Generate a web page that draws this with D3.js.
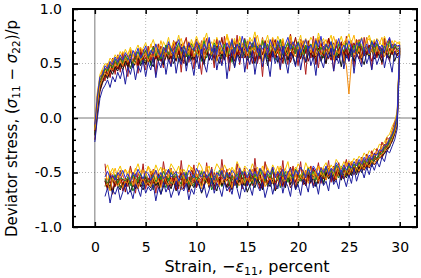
<!DOCTYPE html>
<html>
<head>
<meta charset="utf-8">
<script src="https://cdn.jsdelivr.net/npm/d3@7"></script>
<style>
  body { margin: 0; background: #fff; }
  svg text { font-family: "DejaVu Sans", sans-serif; fill: #000; }
</style>
</head>
<body>
<script>
// strain grid (percent) for the loading and the unloading branch
const strainLoad = [0,0.25,0.5,0.75,1,1.25,1.5,1.75,2,2.25, 2.5,2.75,3,3.25,3.5,3.75,4,4.25,4.5,4.75,
  5,5.25,5.5,5.75,6,6.25,6.5,6.75,7,7.25, 7.5,7.75,8,8.25,8.5,8.75,9,9.25,9.5,9.75,
  10,10.25,10.5,10.75,11,11.25,11.5,11.75,12,12.25, 12.5,12.75,13,13.25,13.5,13.75,14,14.25,14.5,14.75,
  15,15.25,15.5,15.75,16,16.25,16.5,16.75,17,17.25, 17.5,17.75,18,18.25,18.5,18.75,19,19.25,19.5,19.75,
  20,20.25,20.5,20.75,21,21.25,21.5,21.75,22,22.25, 22.5,22.75,23,23.25,23.5,23.75,24,24.25,24.5,24.75,
  25,25.25,25.5,25.75,26,26.25,26.5,26.75,27,27.25, 27.5,27.75,28,28.25,28.5,28.75,29,29.25,29.5,29.75, 30];
const strainUnload = [30,29.75,29.5,29.25,29,28.75,28.5,28.25,28,27.75, 27.5,27.25,27,26.75,26.5,26.25,26,25.75,25.5,25.25,
  25,24.75,24.5,24.25,24,23.75,23.5,23.25,23,22.75, 22.5,22.25,22,21.75,21.5,21.25,21,20.75,20.5,20.25,
  20,19.75,19.5,19.25,19,18.75,18.5,18.25,18,17.75, 17.5,17.25,17,16.75,16.5,16.25,16,15.75,15.5,15.25,
  15,14.75,14.5,14.25,14,13.75,13.5,13.25,13,12.75, 12.5,12.25,12,11.75,11.5,11.25,11,10.75,10.5,10.25,
  10,9.75,9.5,9.25,9,8.75,8.5,8.25,8,7.75, 7.5,7.25,7,6.75,6.5,6.25,6,5.75,5.5,5.25,
  5,4.75,4.5,4.25,4,3.75,3.5,3.25,3,2.75, 2.5,2.25,2,1.75,1.5,1.25,1];

// deviator stress, in hundredths
const upA = [-12,12,33,35,46,40,51,43,52,45, 56,47,55,49,58,50,57,48,60,53, 62,51,59,66,54,61,52,64,57,68, 55,63,70,58,65,52,61,69,57,64,
  72,59,66,53,63,71,60,55,67,62, 74,58,65,51,62,70,57,66,60,73, 56,64,69,52,61,67,58,71,63,55, 66,72,59,64,50,62,69,57,65,74,
  61,54,67,60,71,58,63,49,62,68, 57,65,73,60,55,66,62,70,58,64, 52,63,69,61,72,56,65,59,67,62, 70,57,64,55,66,61,73,58,65,63, 64];
const downA = [64,0,-6,-19,-18,-28,-24,-35,-30,-39, -32,-42,-36,-45,-38,-47,-40,-48,-43,-50, -41,-52,-46,-55,-44,-51,-58,-47,-53,-45,
  -56,-49,-60,-51,-46,-57,-53,-62,-48,-55, -50,-59,-54,-45,-58,-52,-63,-49,-56,-61, -47,-55,-60,-52,-64,-50,-57,-46,-59,-53,
  -62,-51,-56,-48,-60,-54,-65,-50,-58,-55, -49,-61,-53,-58,-47,-63,-55,-51,-60,-57, -64,-52,-48,-59,-55,-62,-50,-57,-66,-53,
  -58,-47,-61,-54,-63,-51,-56,-60,-49,-62, -55,-59,-52,-65,-57,-50,-61,-54,-68,-56, -60,-51,-63,-57,-53,-66,-58];
const upB = [-4,22,40,45,50,48,55,52,58,54, 61,56,63,58,65,57,62,67,60,64, 69,61,66,72,63,68,60,70,65,74, 62,71,67,76,64,69,73,61,72,66,
  75,68,63,71,78,65,70,62,74,67, 72,64,77,69,66,73,61,75,68,71, 65,74,70,79,67,63,72,68,76,64, 71,66,75,69,73,62,70,77,65,72,
  68,76,63,71,67,74,70,64,78,69, 73,65,70,76,62,71,68,75,66,72, 77,67,63,72,69,74,65,71,76,68, 64,73,70,66,75,68,72,63,71,69, 70];
const downB = [70,6,-3,-8,-15,-17,-22,-25,-24,-30, -28,-33,-30,-36,-32,-38,-35,-40,-37,-42, -39,-44,-40,-46,-42,-38,-47,-43,-49,-41,
  -45,-50,-43,-48,-52,-44,-47,-41,-51,-46, -42,-49,-45,-53,-40,-47,-50,-44,-52,-48, -43,-51,-46,-41,-49,-54,-45,-48,-42,-50,
  -47,-44,-52,-46,-40,-50,-45,-53,-48,-43, -51,-46,-42,-49,-55,-44,-48,-52,-45,-41, -49,-53,-46,-43,-51,-47,-54,-44,-50,-46,
  -42,-50,-47,-55,-45,-49,-43,-52,-48,-44, -53,-46,-50,-42,-48,-55,-45,-51,-47,-52, -44,-49,-54,-46,-51,-43,-48];
const upC = [-22,0,18,26,30,35,28,38,33,42, 36,45,31,47,40,50,35,48,42,53, 38,51,44,56,37,52,46,58,40,54, 47,60,41,55,49,62,43,57,51,39,
  58,45,63,50,42,59,53,64,44,56, 48,61,36,55,63,46,58,51,65,42, 57,49,62,40,55,64,47,59,52,38, 61,50,57,45,66,53,41,60,55,47,
  63,44,58,52,66,48,56,39,61,53, 46,60,55,64,43,57,50,62,45,58, 52,65,41,59,54,47,63,50,57,44, 60,49,56,64,46,58,53,42,61,55, 58];
const downC = [58,-10,-20,-26,-32,-30,-40,-36,-45,-40, -48,-42,-52,-45,-55,-47,-50,-58,-46,-60, -52,-63,-55,-48,-65,-57,-61,-50,-67,-58,
  -62,-54,-70,-59,-64,-52,-68,-60,-56,-71, -61,-66,-55,-72,-63,-58,-69,-54,-65,-60, -70,-57,-64,-73,-59,-67,-62,-55,-71,-63,
  -58,-68,-61,-74,-65,-56,-70,-63,-67,-59, -72,-64,-60,-69,-55,-66,-73,-61,-68,-62, -57,-70,-65,-75,-60,-67,-63,-71,-58,-66,
  -73,-62,-68,-59,-70,-64,-76,-61,-67,-63, -69,-58,-72,-65,-61,-74,-66,-70,-60,-68, -75,-63,-70,-66,-78,-64,-72];
const upD = [-8,18,35,41,44,47,43,50,46,53, 49,56,51,58,53,48,60,55,52,61, 57,63,54,60,66,56,62,58,65,53, 61,68,59,64,55,67,62,70,57,63,
  66,60,71,58,64,69,61,56,67,63, 59,70,65,62,73,57,66,61,68,64, 71,60,65,58,69,63,74,61,67,55, 64,69,60,72,66,58,63,70,62,67,
  57,65,71,61,68,64,59,73,63,66, 70,61,67,56,64,72,60,66,69,58, 65,71,62,68,59,66,63,74,61,67, 62,69,58,65,71,63,67,60,68,65, 66];
const downD = [66,2,-11,-13,-22,-22,-29,-27,-35,-32, -38,-34,-41,-37,-43,-39,-46,-41,-47,-42, -49,-43,-50,-46,-53,-44,-51,-48,-55,-47,
  -52,-45,-56,-50,-47,-54,-49,-58,-51,-46, -55,-50,-57,-48,-53,-59,-51,-46,-56,-52, -49,-57,-53,-60,-48,-55,-51,-58,-47,-54,
  -56,-50,-61,-53,-49,-57,-52,-59,-54,-48, -55,-60,-51,-56,-49,-62,-53,-57,-50,-58, -52,-47,-57,-54,-61,-50,-56,-53,-59,-49,
  -58,-52,-55,-63,-51,-57,-48,-60,-54,-56, -50,-59,-53,-57,-62,-51,-56,-54,-60,-52, -57,-61,-53,-58,-50,-62,-55];
const upE = [-14,10,28,38,39,45,42,48,44,51, 47,53,49,55,45,54,51,57,50,56, 52,59,48,57,62,53,58,51,63,55, 60,54,65,51,58,62,56,66,53,59,
  57,64,52,61,55,67,58,50,63,60, 54,66,59,62,51,65,57,69,56,61, 63,55,60,68,52,64,58,62,54,67, 59,53,66,57,63,50,61,68,56,62,
  65,58,54,67,60,56,64,52,62,58, 55,63,60,69,54,61,57,65,51,60, 64,56,62,58,67,53,60,66,57,63, 58,66,55,62,60,68,54,63,59,61, 62];
const downE = [62,-4,-12,-21,-20,-29,-27,-34,-33,-39, -37,-43,-38,-45,-40,-47,-43,-49,-44,-51, -46,-53,-48,-44,-55,-50,-52,-57,-49,-54,
  -59,-51,-55,-61,-53,-57,-50,-60,-56,-52, -58,-63,-54,-57,-51,-61,-55,-64,-53,-59, -56,-52,-62,-57,-65,-54,-60,-51,-58,-63,
  -55,-61,-57,-53,-64,-59,-56,-62,-50,-58, -63,-57,-54,-60,-66,-55,-59,-52,-61,-57, -54,-62,-58,-65,-56,-52,-61,-57,-63,-59,
  -60,-55,-64,-58,-53,-62,-57,-66,-56,-61, -57,-63,-59,-54,-61,-67,-58,-55,-62,-60, -64,-58,-61,-56,-66,-59,-63];
const upF = [-2,24,37,44,42,50,48,54,51,57, 55,61,54,59,63,56,62,58,65,59, 63,58,68,61,66,60,71,63,59,67, 64,70,62,68,73,63,66,60,69,65,
  71,62,67,74,64,69,61,72,66,70, 63,68,75,65,62,71,67,73,64,69, 66,72,61,70,76,65,68,63,71,67, 74,64,69,66,72,61,70,75,65,68,
  63,71,67,73,65,60,69,66,74,64, 68,72,62,67,75,66,70,63,69,73, 65,69,76,64,71,67,62,70,73,66, 72,64,68,74,63,70,66,71,65,69, 68];
const downF = [68,4,-7,-12,-20,-20,-26,-26,-31,-31, -35,-33,-38,-35,-41,-37,-44,-39,-45,-40, -47,-41,-45,-50,-43,-48,-45,-51,-44,-49,
  -46,-52,-44,-49,-53,-47,-45,-51,-48,-54, -49,-45,-52,-47,-55,-46,-50,-53,-44,-51, -48,-54,-46,-51,-44,-52,-49,-56,-47,-50,
  -53,-47,-51,-45,-55,-48,-52,-46,-50,-54, -46,-52,-49,-55,-47,-51,-44,-53,-48,-50, -54,-48,-45,-52,-50,-56,-47,-51,-49,-53,
  -47,-55,-50,-46,-53,-49,-57,-48,-52,-45, -51,-48,-54,-50,-46,-53,-49,-56,-47,-52, -50,-55,-46,-53,-49,-57,-51];
const upG = [-16,8,26,33,40,36,44,40,47,43, 50,44,52,47,54,46,51,55,48,53, 49,56,51,47,58,52,55,49,60,53, 57,50,55,61,52,58,48,63,54,57,
  51,60,56,49,62,53,58,64,55,50, 59,54,63,52,57,47,60,55,62,58, 53,61,56,50,64,57,52,59,48,61, 56,62,51,58,54,65,53,60,57,49,
  60,55,63,51,58,62,54,57,64,52, 58,50,61,56,63,53,59,47,62,55, 59,64,52,57,61,55,49,60,56,63, 54,60,57,51,62,58,55,63,52,59, 60];
const downG = [60,-6,-14,-20,-27,-28,-33,-35,-36,-41, -39,-45,-41,-47,-44,-50,-45,-52,-47,-53, -49,-55,-51,-57,-50,-54,-59,-52,-56,-50,
  -61,-53,-57,-63,-55,-59,-52,-62,-58,-54, -60,-65,-56,-61,-53,-64,-58,-55,-62,-67, -57,-63,-59,-54,-66,-60,-56,-64,-58,-62,
  -68,-59,-63,-57,-61,-55,-66,-60,-64,-58, -62,-56,-67,-61,-58,-64,-55,-63,-69,-60, -57,-64,-60,-66,-59,-55,-63,-61,-67,-58,
  -65,-60,-57,-63,-70,-59,-62,-56,-64,-61, -59,-66,-62,-58,-65,-61,-68,-57,-63,-60, -66,-62,-59,-69,-61,-64,-58];
const upH = [-8,20,26,44,34,50,37,55,40,58, 42,60,47,38,62,50,58,41,64,52, 44,66,53,61,40,68,56,46,67,59, 48,71,55,63,42,67,74,51,62,45,
  70,57,40,66,73,53,63,46,72,58, 50,75,60,43,68,55,76,49,64,70, 45,66,57,74,50,63,38,69,59,52, 73,55,66,44,71,60,49,77,56,64,
  48,72,61,40,67,55,75,58,46,69, 60,50,73,64,43,70,56,66,52,75, 54,69,47,72,62,50,74,58,67,45, 70,55,65,49,73,60,52,68,63,57, 64];
const downH = [64,2,-4,-12,-20,-18,-27,-22,-33,-28, -38,-30,-42,-33,-45,-36,-48,-38,-50,-40, -53,-38,-47,-57,-41,-54,-44,-59,-39,-53,
  -46,-60,-41,-55,-62,-44,-57,-48,-61,-40, -54,-64,-44,-58,-49,-63,-39,-59,-50,-66, -45,-61,-53,-40,-64,-50,-58,-37,-62,-51,
  -59,-46,-65,-55,-42,-62,-52,-68,-47,-57, -38,-61,-54,-66,-45,-59,-41,-64,-56,-48, -63,-43,-57,-68,-50,-60,-39,-65,-53,-58,
  -46,-66,-56,-40,-62,-52,-69,-47,-60,-55, -65,-42,-58,-50,-69,-55,-44,-63,-57,-67, -48,-61,-53,-70,-51,-64,-42];
const upI = [-6,20,38,40,48,45,52,49,56,51, 58,53,60,56,51,62,57,64,55,60, 66,57,62,59,68,61,56,65,60,70, 63,58,67,72,61,66,59,69,64,62,
  70,65,59,68,63,74,61,67,58,71, 65,60,69,64,72,59,68,62,75,66, 61,70,65,73,60,67,63,69,58,72, 66,62,71,64,59,68,74,63,70,65,
  69,60,66,72,63,67,61,71,65,75, 62,68,64,70,58,66,73,61,67,63, 71,64,60,69,66,73,62,68,59,70, 65,72,63,67,61,69,74,64,68,66, 67];
const downI = [67,3,-9,-15,-19,-24,-25,-30,-29,-34, -33,-38,-34,-40,-36,-42,-38,-44,-40,-46, -42,-48,-43,-50,-45,-41,-49,-46,-52,-44,
  -50,-46,-53,-48,-44,-51,-47,-55,-49,-45, -52,-48,-54,-46,-50,-57,-47,-53,-49,-55, -45,-52,-48,-56,-50,-46,-54,-49,-53,-47,
  -55,-49,-52,-46,-57,-51,-48,-54,-50,-56, -48,-53,-50,-57,-47,-52,-55,-49,-54,-51, -46,-55,-51,-48,-56,-50,-53,-58,-49,-52,
  -54,-47,-52,-56,-50,-55,-48,-53,-57,-51, -49,-56,-52,-47,-54,-50,-58,-51,-55,-48, -53,-50,-57,-52,-55,-49,-54];
const upJ = [-20,4,24,32,37,41,38,45,42,48, 44,51,47,53,46,50,55,48,52,57, 50,55,59,51,57,53,61,49,56,60, 54,59,52,63,56,50,60,57,64,53,
  58,62,55,51,63,57,60,66,54,59, 61,53,65,57,60,52,63,58,55,64, 57,62,50,60,66,54,59,63,56,52, 62,58,65,53,60,57,63,51,59,66,
  55,61,58,64,52,60,56,67,58,54, 63,57,60,53,65,59,55,62,50,61, 58,64,56,60,54,66,57,61,59,52, 60,56,64,58,62,55,63,59,61,57, 61];
const downJ = [61,-7,-15,-22,-25,-31,-31,-37,-36,-40, -43,-40,-46,-42,-48,-44,-50,-46,-52,-48, -54,-49,-56,-51,-47,-57,-52,-58,-50,-55,
  -53,-59,-51,-56,-62,-54,-58,-50,-61,-55, -57,-52,-60,-64,-55,-59,-53,-62,-57,-51, -60,-56,-63,-54,-58,-65,-57,-61,-53,-59,
  -55,-62,-58,-51,-64,-56,-60,-54,-63,-57, -61,-54,-59,-66,-56,-60,-52,-63,-58,-55, -62,-58,-53,-61,-57,-65,-55,-59,-63,-56,
  -58,-64,-55,-60,-53,-62,-59,-66,-56,-61, -54,-60,-63,-57,-65,-58,-61,-55,-62,-59, -63,-56,-60,-66,-58,-62,-57];
const upK = [-9,14,34,39,45,43,49,46,54,48, 55,50,57,53,59,49,56,61,54,58, 62,55,60,65,57,63,54,61,67,58, 64,57,62,69,59,66,61,56,68,63,
  58,67,62,71,60,65,57,69,63,66, 61,68,56,64,70,60,67,63,58,72, 64,59,69,62,66,57,71,63,68,60, 67,61,65,72,58,64,69,62,66,59,
  70,63,57,66,61,68,64,71,60,65, 59,67,63,70,62,57,68,64,61,69, 63,58,67,61,70,65,59,66,62,71, 60,68,64,59,66,62,70,61,67,63, 65];
const downK = [65,1,-10,-17,-21,-26,-27,-33,-32,-37, -35,-41,-37,-43,-39,-45,-41,-47,-42,-48, -44,-50,-46,-52,-47,-43,-53,-48,-51,-46,
  -54,-48,-51,-57,-49,-53,-46,-55,-50,-58, -51,-47,-56,-52,-59,-49,-54,-50,-57,-53, -48,-55,-51,-58,-53,-47,-56,-52,-60,-50,
  -54,-59,-49,-55,-51,-57,-53,-61,-50,-56, -52,-48,-57,-53,-60,-51,-55,-58,-49,-54, -57,-52,-55,-61,-50,-56,-53,-59,-51,-55,
  -50,-58,-54,-49,-57,-53,-60,-52,-56,-59, -53,-57,-51,-59,-55,-52,-62,-54,-58,-56, -55,-60,-52,-57,-54,-61,-56];
const upL = [-11,11,30,36,41,39,46,44,50,47, 53,48,55,51,57,52,49,58,53,56, 60,52,58,54,63,56,61,53,59,65, 57,62,55,66,59,53,63,58,67,56,
  62,57,68,54,61,65,58,63,52,66, 59,64,56,69,60,55,66,62,58,67, 54,63,60,65,57,68,52,64,59,61, 66,58,62,55,69,61,57,64,60,56,
  63,67,59,54,65,60,68,57,62,58, 64,56,61,67,53,62,59,66,55,48, 22,52,60,57,64,55,61,66,58,63, 57,65,60,62,56,67,59,64,58,62, 60];
const downL = [60,-5,-13,-19,-25,-27,-31,-33,-37,-38, -42,-39,-45,-41,-47,-43,-49,-45,-51,-46, -52,-47,-54,-49,-45,-56,-50,-53,-48,-57,
  -51,-55,-58,-50,-56,-53,-60,-49,-57,-54, -58,-52,-61,-55,-50,-59,-54,-62,-56,-52, -60,-55,-58,-63,-53,-57,-50,-61,-56,-59,
  -53,-60,-56,-62,-58,-51,-64,-57,-55,-61, -57,-63,-52,-59,-55,-62,-58,-54,-65,-56, -59,-54,-62,-57,-60,-53,-66,-58,-55,-61,
  -56,-62,-58,-53,-64,-57,-60,-55,-63,-59, -61,-55,-59,-65,-56,-62,-54,-60,-58,-64, -57,-63,-59,-55,-67,-60,-62];
const upM = [-15,14,29,39,43,37,49,45,52,47, 55,49,58,46,56,52,60,51,57,63, 54,60,50,64,57,53,66,59,62,52, 65,58,61,54,68,60,56,67,53,63,
  60,69,55,64,58,71,62,54,66,61, 57,66,63,70,56,62,68,59,64,55, 69,61,58,66,53,64,70,60,57,67, 62,56,68,63,71,58,65,54,66,60,
  57,64,70,59,62,55,67,61,72,58, 66,60,54,65,69,57,63,68,59,62, 55,67,61,58,70,63,57,65,60,68, 62,58,66,61,69,56,64,60,67,61, 63];
const downM = [63,-3,-12,-16,-24,-23,-31,-30,-35,-36, -39,-37,-44,-40,-46,-42,-45,-50,-44,-52, -47,-53,-45,-55,-50,-48,-56,-51,-46,-57,
  -52,-49,-58,-54,-47,-60,-53,-50,-57,-55, -48,-59,-54,-61,-51,-56,-49,-62,-55,-52, -58,-53,-60,-50,-57,-63,-54,-59,-51,-56,
  -62,-55,-51,-58,-64,-53,-57,-60,-52,-59, -54,-61,-57,-50,-63,-56,-59,-53,-62,-58, -51,-60,-55,-64,-57,-52,-61,-56,-59,-54,
  -63,-57,-53,-60,-56,-65,-58,-52,-61,-55, -59,-54,-62,-57,-51,-63,-58,-60,-55,-64, -56,-61,-58,-53,-65,-59,-62];

// drawing order: reds underneath, blues and greens mixed on top
const runColors = ["#7a0000", "#a01515", "#1e7d1e", "#cc5a1e", "#f5c400", "#b01e1e", "#111111",
  "#8b0000", "#ffb000", "#228b22", "#f08a0c", "#1c1c9e", "#2b2bd0"];
const runs = [
  [upJ, downJ], [upM, downM], [upE, downE], [upD, downD], [upB, downB], [upH, downH], [upG, downG],
  [upA, downA], [upF, downF], [upK, downK], [upL, downL], [upC, downC], [upI, downI]
];

const xTicks = [0, 5, 10, 15, 20, 25, 30];
const xTickLabels = ["0", "5", "10", "15", "20", "25", "30"];
const yTicks = [-1, -0.5, 0, 0.5, 1];
const yTickLabels = ["-1.0", "-0.5", "0.0", "0.5", "1.0"];
const yMinorTicks = [-0.9,-0.8,-0.7,-0.6,-0.4,-0.3,-0.2,-0.1,0.1,0.2,0.3,0.4,0.6,0.7,0.8,0.9];

const width = 421, height = 278;
const box = {left: 73, right: 417, top: 9, bottom: 227};

const svg = d3.select("body").append("svg")
  .attr("width", width)
  .attr("height", height);

svg.append("rect").attr("width", width).attr("height", height).attr("fill", "#fff");

const x = d3.scaleLinear().domain([-2.15, 31.7]).range([box.left, box.right]);
const y = d3.scaleLinear().domain([-1, 1]).range([box.bottom, box.top]);

svg.append("clipPath").attr("id", "plot")
  .append("rect")
  .attr("x", box.left).attr("y", box.top)
  .attr("width", box.right - box.left).attr("height", box.bottom - box.top);

// dotted grid
svg.append("g")
  .selectAll("line")
  .data(xTicks.filter(d => d !== 0))
  .enter().append("line")
  .attr("x1", d => x(d)).attr("x2", d => x(d))
  .attr("y1", box.top).attr("y2", box.bottom)
  .attr("stroke", "#b8b8b8")
  .attr("stroke-dasharray", "1,2");
svg.append("g")
  .selectAll("line")
  .data(yTicks.filter(d => d !== 0))
  .enter().append("line")
  .attr("x1", box.left).attr("x2", box.right)
  .attr("y1", d => y(d)).attr("y2", d => y(d))
  .attr("stroke", "#b8b8b8")
  .attr("stroke-dasharray", "1,2");

// zero lines
svg.append("line")
  .attr("x1", x(0)).attr("x2", x(0)).attr("y1", box.top).attr("y2", box.bottom)
  .attr("stroke", "#555").attr("stroke-width", 0.8);
svg.append("line")
  .attr("x1", box.left).attr("x2", box.right).attr("y1", y(0)).attr("y2", y(0))
  .attr("stroke", "#555").attr("stroke-width", 0.8);

// the stress-strain loops
const line = d3.line()
  .x(d => x(d[0]))
  .y(d => y(d[1]));

const plot = svg.append("g").attr("clip-path", "url(#plot)");
runs.forEach(function(run, k) {
  let pts = [];
  strainLoad.forEach(function(s, i) {
    if (i < run[0].length) pts.push([s, run[0][i] / 100]);
  });
  strainUnload.forEach(function(s, i) {
    if (i < run[1].length) pts.push([s, run[1][i] / 100]);
  });
  plot.append("path")
    .datum(pts)
    .attr("d", line)
    .attr("fill", "none")
    .attr("stroke", runColors[k])
    .attr("stroke-width", 1)
    .attr("stroke-linejoin", "round");
});

// axes, ticks pointing inwards
const fmtY = d => yTickLabels[yTicks.indexOf(d)];
const fmtX = d => xTickLabels[xTicks.indexOf(d)];

svg.append("g")
  .attr("transform", "translate(" + box.left + ",0)")
  .call(d3.axisLeft(y).tickValues(yTicks).tickSize(-5).tickPadding(11).tickFormat(fmtY))
  .call(g => g.select(".domain").remove())
  .selectAll("text").style("font-size", "14px").style("font-family", "DejaVu Sans");
svg.append("g")
  .attr("transform", "translate(" + box.left + ",0)")
  .call(d3.axisLeft(y).tickValues(yMinorTicks).tickSize(-3).tickFormat(""))
  .call(g => g.select(".domain").remove());
svg.append("g")
  .attr("transform", "translate(" + box.right + ",0)")
  .call(d3.axisRight(y).tickValues(yTicks).tickSize(-5).tickFormat(""))
  .call(g => g.select(".domain").remove());
svg.append("g")
  .attr("transform", "translate(" + box.right + ",0)")
  .call(d3.axisRight(y).tickValues(yMinorTicks).tickSize(-3).tickFormat(""))
  .call(g => g.select(".domain").remove());
svg.append("g")
  .attr("transform", "translate(0," + box.bottom + ")")
  .call(d3.axisBottom(x).tickValues(xTicks).tickSize(-5).tickPadding(15).tickFormat(fmtX))
  .call(g => g.select(".domain").remove())
  .selectAll("text").style("font-size", "14px").style("font-family", "DejaVu Sans");
svg.append("g")
  .attr("transform", "translate(0," + box.top + ")")
  .call(d3.axisTop(x).tickValues(xTicks).tickSize(-5).tickFormat(""))
  .call(g => g.select(".domain").remove());

svg.selectAll(".tick line").attr("stroke", "#000").attr("stroke-width", 1.5);

// frame
svg.append("rect")
  .attr("x", box.left).attr("y", box.top)
  .attr("width", box.right - box.left).attr("height", box.bottom - box.top)
  .attr("fill", "none").attr("stroke", "#000").attr("stroke-width", 2);

// axis titles
const xt = svg.append("text")
  .attr("x", (162 + 332) / 2).attr("y", 272)
  .attr("text-anchor", "middle")
  .style("font-size", "16px");
xt.append("tspan").text("Strain, \u2212");
xt.append("tspan").style("font-style", "italic").text("\u03b5");
xt.append("tspan").attr("dy", 3).style("font-size", "11px").text("11");
xt.append("tspan").attr("dy", -3).text(", percent");

const yt = svg.append("text")
  .attr("transform", "translate(17,237) rotate(-90)")
  .attr("text-anchor", "start")
  .style("font-size", "15px");
yt.append("tspan").text("Deviator stress, (");
yt.append("tspan").style("font-style", "italic").text("\u03c3");
yt.append("tspan").attr("dy", 3).style("font-size", "10.5px").text("11");
yt.append("tspan").attr("dy", -3).text(" \u2212 ");
yt.append("tspan").style("font-style", "italic").text("\u03c3");
yt.append("tspan").attr("dy", 3).style("font-size", "10.5px").text("22");
yt.append("tspan").attr("dy", -3).text(")/p");
</script>
</body>
</html>
